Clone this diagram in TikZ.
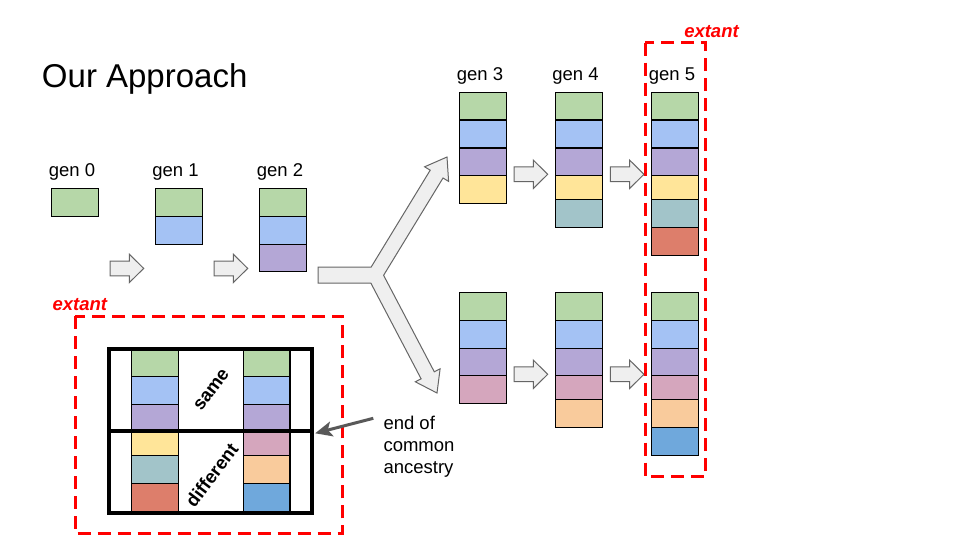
\documentclass[tikz,border=0pt]{standalone}
\usepackage{fontspec}
\setmainfont{Liberation Sans}
\usetikzlibrary{arrows.meta}
\definecolor{cgreen}{HTML}{B6D7A8}
\definecolor{cblue}{HTML}{A4C2F4}
\definecolor{cpurple}{HTML}{B4A7D6}
\definecolor{cyellow}{HTML}{FFE599}
\definecolor{cteal}{HTML}{A2C4C9}
\definecolor{cred}{HTML}{DD7E6B}
\definecolor{cpink}{HTML}{D5A6BD}
\definecolor{corange}{HTML}{F9CB9C}
\definecolor{cdblue}{HTML}{6FA8DC}
\definecolor{arrfill}{HTML}{EFEFEF}
\definecolor{arrline}{HTML}{666666}
\definecolor{ecagray}{HTML}{595959}
\newcommand\mkcell[5]{\draw[cellline, fill=#5] (#1,#3) rectangle (#2,#4);}
\tikzset{
  cellline/.style={draw=black, line width=1.1pt},
  blockarrow/.style={draw=arrline, fill=arrfill, line width=1pt, line join=miter},
  redbox/.style={draw=red, line width=3pt, dash pattern=on 13pt off 7pt},
  lbl/.style={font=\fontsize{18.5}{22}\selectfont, inner sep=0pt},
  extlbl/.style={font=\fontsize{18.5}{22}\selectfont\bfseries\itshape, text=red, inner sep=0pt},
  rotlbl/.style={font=\fontsize{18.5}{22}\selectfont\bfseries, inner sep=0pt, rotate=53},
  barrow/.pic={\draw[blockarrow] (0,-7.4) -- (19.3,-7.4) -- (19.3,-14.2) -- (33.7,0) -- (19.3,14.2) -- (19.3,7.4) -- (0,7.4) -- cycle;}
}
\begin{document}
\begin{tikzpicture}[x=1pt,y=-1pt]
\useasboundingbox[fill=white] (0,0) rectangle (960,540);

% title
\node[font=\fontsize{33}{40}\selectfont, inner sep=0pt, anchor=base] (title) at (144.7,87.3) {Our Approach};

% generation labels
\node[lbl, anchor=base] (l0) at (72,176.7) {gen 0};
\node[lbl, anchor=base] (l1) at (175.5,176.7) {gen 1};
\node[lbl, anchor=base] (l2) at (280,176.7) {gen 2};
\node[lbl, anchor=base] (l3) at (480,80.5) {gen 3};
\node[lbl, anchor=base] (l4) at (575.5,80.5) {gen 4};
\node[lbl, anchor=base] (l5) at (672,80.5) {gen 5};

% gen 0
\mkcell{51.3}{98.7}{188.3}{216.3}{cgreen}
% gen 1
\mkcell{155.3}{202.3}{188.3}{216.3}{cgreen}
\mkcell{155.3}{202.3}{216.3}{244.3}{cblue}
% gen 2
\mkcell{259.3}{306.3}{188.3}{216.3}{cgreen}
\mkcell{259.3}{306.3}{216.3}{244.3}{cblue}
\mkcell{259.3}{306.3}{244.3}{271.3}{cpurple}

% gen 3 upper
\mkcell{459.3}{506.3}{92.3}{120}{cgreen}
\mkcell{459.3}{506.3}{120}{148}{cblue}
\mkcell{459.3}{506.3}{148}{175.3}{cpurple}
\mkcell{459.3}{506.3}{175.3}{203.3}{cyellow}
% gen 4 upper
\mkcell{555.3}{602.3}{92.3}{120}{cgreen}
\mkcell{555.3}{602.3}{120}{148}{cblue}
\mkcell{555.3}{602.3}{148}{175.3}{cpurple}
\mkcell{555.3}{602.3}{175.3}{199.3}{cyellow}
\mkcell{555.3}{602.3}{199.3}{227.3}{cteal}
% gen 5 upper
\mkcell{651.3}{698.3}{92.3}{120}{cgreen}
\mkcell{651.3}{698.3}{120}{148}{cblue}
\mkcell{651.3}{698.3}{148}{175.3}{cpurple}
\mkcell{651.3}{698.3}{175.3}{199.3}{cyellow}
\mkcell{651.3}{698.3}{199.3}{227.3}{cteal}
\mkcell{651.3}{698.3}{227.3}{255.3}{cred}

% gen 3 lower
\mkcell{459.3}{506.3}{292.3}{320.3}{cgreen}
\mkcell{459.3}{506.3}{320.3}{348.3}{cblue}
\mkcell{459.3}{506.3}{348.3}{375.3}{cpurple}
\mkcell{459.3}{506.3}{375.3}{403.3}{cpink}
% gen 4 lower
\mkcell{555.3}{602.3}{292.3}{320.3}{cgreen}
\mkcell{555.3}{602.3}{320.3}{348.3}{cblue}
\mkcell{555.3}{602.3}{348.3}{375.3}{cpurple}
\mkcell{555.3}{602.3}{375.3}{399.3}{cpink}
\mkcell{555.3}{602.3}{399.3}{427.3}{corange}
% gen 5 lower
\mkcell{651.3}{698.3}{292.3}{320.3}{cgreen}
\mkcell{651.3}{698.3}{320.3}{348.3}{cblue}
\mkcell{651.3}{698.3}{348.3}{375.3}{cpurple}
\mkcell{651.3}{698.3}{375.3}{399.3}{cpink}
\mkcell{651.3}{698.3}{399.3}{427.3}{corange}
\mkcell{651.3}{698.3}{427.3}{455.3}{cdblue}

% block arrows
\pic at (110,268.4) {barrow};
\pic at (214,268.4) {barrow};
\pic at (514,174.3) {barrow};
\pic at (610.3,174.3) {barrow};
\pic at (514,374.3) {barrow};
\pic at (610.3,374.3) {barrow};

% fork arrow
\draw[blockarrow] (318,267) -- (371.2,267) -- (430.2,170.2) -- (424.6,166.8) -- (447,157)
  -- (448.6,181.4) -- (443,178) -- (383.6,275.3) -- (434.3,371.8) -- (440.1,368.8)
  -- (437,393) -- (415.3,381.8) -- (421.1,378.8) -- (370.8,283) -- (318,283) -- cycle;

% extant boxes
\draw[redbox] (645.3,42.7) rectangle (705.7,476.7);
\node[extlbl, anchor=base] (ext1) at (711.5,37.3) {extant};
\draw[redbox] (75,316) rectangle (342.7,533.3);
\node[extlbl, anchor=base] (ext2) at (79.8,310) {extant};

% comparison box cells
\mkcell{131.7}{178.3}{349}{376.7}{cgreen}
\mkcell{131.7}{178.3}{376.7}{404.3}{cblue}
\mkcell{131.7}{178.3}{404.3}{431}{cpurple}
\mkcell{131.7}{178.3}{431}{455.3}{cyellow}
\mkcell{131.7}{178.3}{455.3}{483.3}{cteal}
\mkcell{131.7}{178.3}{483.3}{513.3}{cred}
\mkcell{243.3}{290}{349}{376.7}{cgreen}
\mkcell{243.3}{290}{376.7}{404.3}{cblue}
\mkcell{243.3}{290}{404.3}{431}{cpurple}
\mkcell{243.3}{290}{431}{455.3}{cpink}
\mkcell{243.3}{290}{455.3}{483.3}{corange}
\mkcell{243.3}{290}{483.3}{513.3}{cdblue}
\node[draw=black, line width=4pt, minimum width=202.4pt, minimum height=164.3pt, inner sep=0pt] (ibox) at (210.5,431.15) {};
\draw[line width=4pt] (ibox.west |- 0,431) -- (ibox.east |- 0,431);
\node[rotlbl] (same) at (211.7,390) {same};
\node[rotlbl] (diff) at (211.7,475) {different};

% end of common ancestry
\node[lbl, align=left, anchor=west] (eca) at (383.3,447.2) {end of\\common\\ancestry};
\coordinate (ecastart) at (373.3,418.3);
\draw[draw=ecagray, line width=3pt, -{Stealth[length=17pt, width=15pt, inset=4pt]}] (ecastart) -- ([xshift=1.5pt]ibox.east |- 0,433.3);
\end{tikzpicture}
\end{document}
